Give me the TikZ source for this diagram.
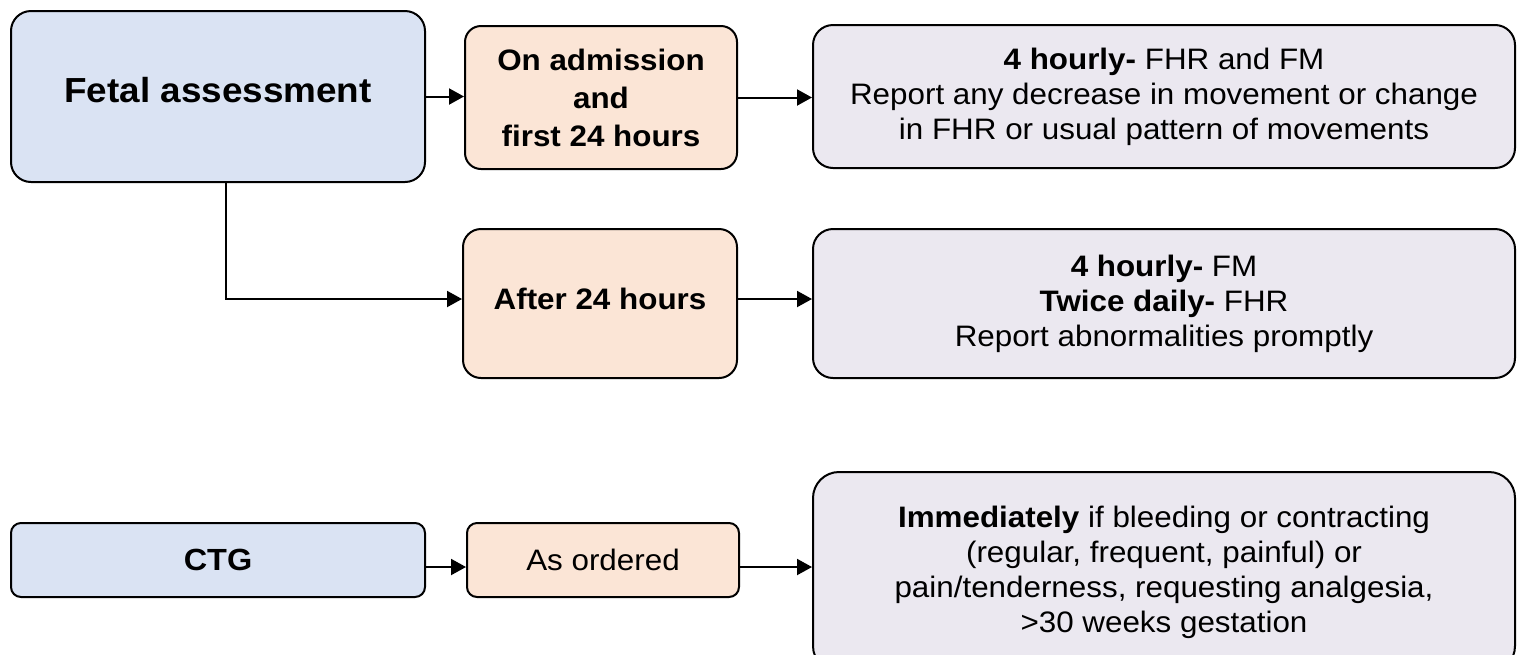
\documentclass[tikz,border=0pt]{standalone}
\usepackage{fontspec}
\setmainfont[FakeStretch=1.06]{Liberation Sans}
\usetikzlibrary{arrows.meta,calc}
\definecolor{bluef}{HTML}{DAE3F3}
\definecolor{peachf}{HTML}{FBE5D6}
\definecolor{lavf}{HTML}{EBE8F0}
\begin{document}
\begin{tikzpicture}[x=0.5pt,y=-0.5pt,
  box/.style={draw=black, line width=1pt, rectangle, align=center, inner sep=0pt,
    font=\fontsize{14.8}{17.5}\selectfont},
  bluebox/.style={box, fill=bluef},
  peachbox/.style={box, fill=peachf},
  lavbox/.style={box, fill=lavf},
  arr/.style={line width=1pt, -{Triangle[length=7.5pt,width=8pt]}}]
\clip (0,0) rectangle (1518,654);
\fill[white] (0,0) rectangle (1518,654);

\node[bluebox, minimum width=207pt, minimum height=85.5pt, rounded corners=10pt,
  font=\fontsize{17.4}{20}\selectfont\bfseries, text depth=6.5pt] (fetal) at (218,96.5) {Fetal assessment};
\node[peachbox, minimum width=136pt, minimum height=71.5pt, rounded corners=8pt,
  font=\fontsize{14.8}{19}\selectfont\bfseries] (adm) at (601,97.5) {On admission\\and\\first 24 hours};
\node[lavbox, minimum width=351pt, minimum height=71.5pt, rounded corners=10pt] (r1) at (1164,96.5)
  {\textbf{4 hourly-} FHR and FM\\Report any decrease in movement or change\\in FHR or usual pattern of movements};

\node[peachbox, minimum width=137pt, minimum height=74.5pt, rounded corners=9pt,
  font=\fontsize{14.8}{17.5}\selectfont\bfseries, text depth=4.5pt] (after) at (600,303.5) {After 24 hours};
\node[lavbox, minimum width=351pt, minimum height=74.5pt, rounded corners=10pt] (r2) at (1164,303.5)
  {\textbf{4 hourly-} FM\\\textbf{Twice daily-} FHR\\Report abnormalities promptly};

\node[bluebox, minimum width=207pt, minimum height=37pt, rounded corners=5pt,
  font=\fontsize{15.3}{17.5}\selectfont\bfseries] (ctg) at (218,560) {CTG};
\node[peachbox, minimum width=136pt, minimum height=37pt, rounded corners=5pt] (ord) at (603,560) {As ordered};
\node[lavbox, minimum width=351pt, minimum height=100pt, rounded corners=13pt] (r3) at (1164,572)
  {\textbf{Immediately} if bleeding or contracting\\(regular, frequent, painful) or\\pain/tenderness, requesting analgesia,\\>30 weeks gestation};

\draw[arr] (fetal.east) -- (fetal.east -| adm.west);
\draw[arr] (adm.east) -- (adm.east -| r1.west);
\draw[arr] ([xshift=4pt]fetal.south) |- ([yshift=2.25pt]after.west);
\draw[arr] ([yshift=2.25pt]after.east) -- ([yshift=2.25pt]after.east -| r2.west);
\draw[arr] ([yshift=-3.5pt]ctg.east) -- ([yshift=-3.5pt]ctg.east -| ord.west);
\draw[arr] ([yshift=-3.5pt]ord.east) -- ([yshift=-3.5pt]ord.east -| r3.west);
\end{tikzpicture}
\end{document}
